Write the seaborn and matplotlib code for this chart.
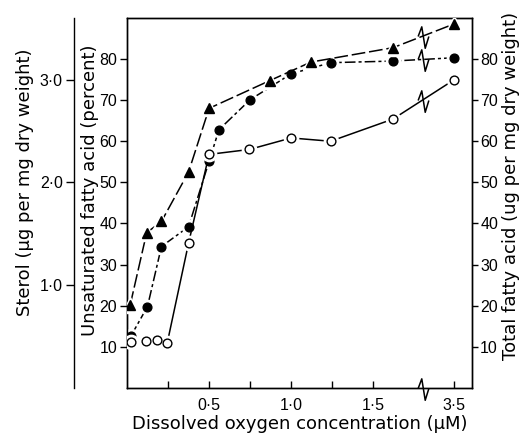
import numpy as np
import pandas as pd
import matplotlib
matplotlib.use("Agg")
import matplotlib.pyplot as plt
from matplotlib.path import Path
import seaborn as sns

# Data
# x = dissolved oxygen concentration (uM); the last point sits beyond an axis break
sterol_x = [0.02, 0.12, 0.21, 0.375, 0.5, 0.87, 1.12, 1.62, 3.5]
sterol_y = [0.81, 1.51, 1.62, 2.10, 2.72, 2.99, 3.17, 3.31, 3.54]  # ug per mg dry weight

unsat_x = [0.025, 0.125, 0.21, 0.375, 0.5, 0.56, 0.75, 1.0, 1.24, 1.62, 3.5]
unsat_y = [12.7, 19.8, 34.4, 39.2, 55.1, 62.8, 70.1, 76.4, 79.1, 79.5, 80.3]  # percent

total_x = [0.025, 0.115, 0.18, 0.245, 0.375, 0.5, 0.745, 1.0, 1.24, 1.62, 3.5]
total_y = [11.3, 11.5, 11.6, 10.9, 35.2, 56.8, 58.0, 60.8, 60.0, 65.4, 74.9]  # ug per mg dry weight

x_ticks = [0.5, 1.0, 1.5, 3.5]
x_ticklabels = ["0·5", "1·0", "1·5", "3·5"]
x_minor = [0.25, 0.75, 1.25]
fa_ticks = [10, 20, 30, 40, 50, 60, 70, 80]
sterol_ticks = [1.0, 2.0, 3.0]
sterol_ticklabels = ["1·0", "2·0", "3·0"]

# broken x axis: everything above 1.75 is squeezed next to the break
BREAK_AT = 1.80
FAR_POS = 1.99


def xpos(x):
    x = np.asarray(x, dtype=float)
    return np.where(x > 1.75, FAR_POS, x)


sns.set_style("ticks")
plt.rcParams["font.family"] = ["Liberation Sans", "DejaVu Sans"]
plt.rcParams["mathtext.default"] = "regular"
for key in ("text.color", "axes.labelcolor", "xtick.color", "ytick.color", "axes.edgecolor"):
    plt.rcParams[key] = "black"
FS_TICK = 11.5
FS_LAB = 13
LAB_FONT = "DejaVu Sans"

fig = plt.figure(figsize=(5.29, 4.38), dpi=100)
ax = fig.add_axes([0.240, 0.1142, 0.652, 0.845])
ax_r = ax.twinx()
ax_s = ax.twinx()

zig = Path([(-0.25, 0.0), (-0.08, 0.45), (0.08, -0.55), (0.25, 0.0)],
           [Path.MOVETO, Path.LINETO, Path.LINETO, Path.LINETO])

series = [
    (ax_s, sterol_x, sterol_y, "^", "k", (0, (9, 2.5)), 7.5),
    (ax, unsat_x, unsat_y, "o", "k", (0, (7, 2, 2, 2)), 6.3),
    (ax_r, total_x, total_y, "o", "white", "-", 6.3),
]

for a, xs, ys, mk, fc, ls, ms in series:
    df = pd.DataFrame({"x": xpos(xs), "y": ys})
    sns.lineplot(data=df, x="x", y="y", ax=a, color="k", lw=1.1,
                 linestyle=ls, estimator=None, sort=True)
    # white halo leaves a little gap where the line meets the marker
    a.plot(df["x"], df["y"], ls="none", marker=mk, ms=ms + 4,
           mfc="white", mec="white", zorder=3)
    a.plot(df["x"], df["y"], ls="none", marker=mk, ms=ms,
           mfc=fc, mec="k", mew=1.0, zorder=4)
    # break symbol on the curve
    yb = np.interp(BREAK_AT, df["x"], df["y"])
    a.plot([BREAK_AT], [yb], ls="none", marker=zig, ms=17, mfc="none",
           mec="k", mew=1.1, zorder=5)

# break on the x axis
ax.plot([BREAK_AT], [0], ls="none", marker=zig, ms=17, mfc="none",
        mec="k", mew=1.1, zorder=6, clip_on=False)

ax.set_xlim(0, 2.10)
for a in (ax, ax_r):
    a.set_ylim(0, 90)
ax_s.set_ylim(0, 3.6)

ax.set_xticks(xpos(x_ticks))
ax.set_xticklabels(x_ticklabels, fontsize=FS_TICK)
ax.set_xticks(x_minor, minor=True)
ax.tick_params(axis="x", which="both", direction="in", length=5, width=1.0, pad=7)

ax.set_yticks(fa_ticks)
ax.set_yticklabels([str(t) for t in fa_ticks], fontsize=FS_TICK)
ax.tick_params(axis="y", direction="out", length=5, width=1.0, pad=2)
ax_r.set_yticks(fa_ticks)
ax_r.set_yticklabels([str(t) for t in fa_ticks], fontsize=FS_TICK)
ax_r.tick_params(axis="y", direction="out", length=4, width=1.0, pad=2)

ax_s.spines["left"].set_position(("axes", -0.154))
ax_s.spines["left"].set_visible(True)
for side in ("right", "top", "bottom"):
    ax_s.spines[side].set_visible(False)
ax_s.yaxis.set_ticks_position("left")
ax_s.yaxis.set_label_position("left")
ax_s.set_yticks(sterol_ticks)
ax_s.set_yticklabels(sterol_ticklabels, fontsize=FS_TICK)
ax_s.tick_params(axis="y", direction="out", length=6, width=1.0, pad=2)

for a in (ax, ax_r, ax_s):
    for sp in a.spines.values():
        sp.set_linewidth(1.0)
ax.spines["top"].set_visible(True)
ax.spines["right"].set_visible(True)

ax.set_xlabel("Dissolved oxygen concentration (μM)", fontsize=FS_LAB, family=LAB_FONT)
ax.set_ylabel("Unsaturated fatty acid (percent)", fontsize=FS_LAB, family=LAB_FONT)
ax_r.set_ylabel("Total fatty acid (ug per mg dry weight)", fontsize=FS_LAB, family=LAB_FONT)
ax_s.set_ylabel("Sterol (μg per mg dry weight)", fontsize=FS_LAB, family=LAB_FONT)
ax.xaxis.set_label_coords(0.5, -0.072)
ax.yaxis.set_label_coords(-0.082, 0.535)
ax_r.yaxis.set_label_coords(1.088, 0.545)
ax_s.yaxis.set_label_coords(-0.270, 0.557)

fig.savefig("out.png", dpi=100)
